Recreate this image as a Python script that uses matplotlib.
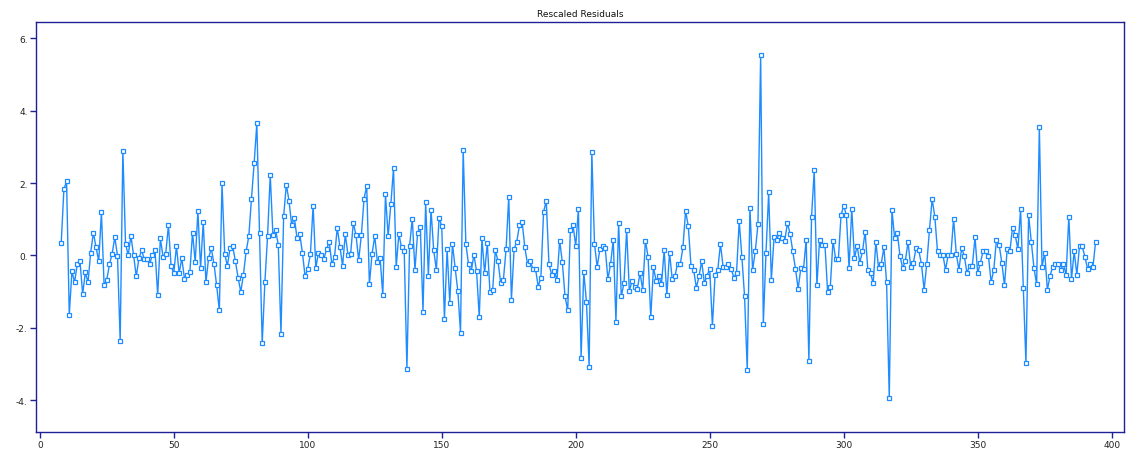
import matplotlib
matplotlib.use("Agg")
import matplotlib.pyplot as plt
from matplotlib.ticker import FuncFormatter

x_start = 8
residuals = [
    0.35, 1.83, 2.05, -1.64, -0.44, -0.74, -0.23, -0.16, -1.07, -0.47,
    -0.74, 0.08, 0.63, 0.22, -0.16, 1.20, -0.83, -0.67, -0.25, 0.05,
    0.50, -0.01, -2.37, 2.90, 0.32, 0.01, 0.54, 0.01, -0.58, -0.08,
    0.14, -0.10, -0.10, -0.25, 0.02, 0.14, -1.10,
    # 45
    0.47, -0.04, 0.05, 0.83, -0.29, -0.49, 0.26, -0.49, -0.08, -0.65,
    -0.53, -0.47, 0.63, -0.19, 1.23, -0.35, 0.93, -0.74, -0.07, 0.20,
    -0.23, -0.83, -1.52, 1.99, 0.05, -0.29, 0.20, 0.26, -0.16, -0.61,
    -1.01, -0.53, 0.11, 0.53, 1.57, 2.56, 3.65, 0.63, -2.43, -0.74,
    # 85
    0.53, 2.23, 0.56, 0.71, 0.29, -2.16, 1.08, 1.96, 1.51, 0.83,
    1.04, 0.47, 0.59, 0.08, -0.58, -0.37, 0.05, 1.38, -0.35, 0.08,
    0.02, -0.10, 0.17, 0.38, -0.25, -0.04, 0.77, 0.24, -0.29, 0.59,
    0.02, 0.05, 0.90, 0.56, -0.13, 0.56, 1.56, 1.93, -0.80, 0.05,
    # 125
    0.53, -0.19, -0.07, -1.10, 1.69, 0.53, 1.41, 2.41, -0.32, 0.59,
    0.22, 0.11, -3.13, 0.26, 1.02, -0.40, 0.63, 0.78, -1.55, 1.47,
    -0.56, 1.26, 0.14, -0.40, 1.04, 0.81, -1.76, 0.17, -1.31, 0.32,
    -0.35, -0.98, -2.13, 2.92, 0.32, -0.25, -0.44, 0.02, -0.44, -1.71,
    # 165
    0.47, -0.49, 0.35, -1.01, -0.95, 0.14, -0.16, -0.77, -0.68, 0.17,
    1.62, -1.22, 0.17, 0.38, 0.83, 0.93, 0.22, -0.23, -0.16, -0.37,
    -0.37, -0.86, -0.61, 1.20, 1.51, -0.23, -0.53, -0.44, -0.68, 0.41,
    -0.19, -1.13, -1.52, 0.71, 0.83, 0.26, 1.29, -2.83,
    # 203
    -0.46, -1.29, -3.07, 2.87, 0.32, -0.32, 0.17, 0.26, 0.20, -0.65,
    -0.25, 0.44, -1.83, 0.90, -1.13, -0.77, 0.71, -0.98, -0.71, -0.86,
    -0.92, -0.49, -0.95, 0.41, -0.04, -1.71, -0.32, -0.71, -0.56, -0.80,
    0.14, -1.10, 0.08, -0.65, -0.58, -0.23, -0.25, 0.22,
    # 241
    1.23, 0.81, -0.28, -0.40, -0.89, -0.58, -0.16, -0.77, -0.56, -0.37,
    -1.95, -0.53, -0.40, 0.32, -0.32, -0.32, -0.25, -0.37, -0.61, -0.49,
    0.95, -0.04, -1.13, -3.16, 1.32, -0.40, 0.11, 0.86, 5.53, -1.89,
    0.08, 1.74, -0.68, 0.50, 0.44, 0.62, 0.47, 0.41, 0.90,
    # 280
    0.59, 0.11, -0.37, -0.92, -0.35, -0.37, 0.44, -2.92, 1.07, 2.35,
    -0.83, 0.44, 0.29, 0.29, -1.01, -0.86, 0.41, -0.11, -0.11, 1.11,
    1.38, 1.11, -0.35, 1.29, -0.07, 0.26, -0.20, 0.11, 0.66, -0.40,
    -0.49, -0.77, 0.38, -0.35, -0.23, 0.22, -0.74, -3.95, 1.26,
    # 319
    0.47, 0.62, -0.01, -0.35, -0.16, 0.38, -0.32, -0.20, 0.20, 0.14,
    -0.23, -0.95, -0.23, 0.71, 1.56, 1.07, 0.11, 0.02, 0.02, -0.40,
    0.02, 0.02, 1.02, 0.05, -0.40, 0.20, -0.01, -0.49, -0.28, -0.28,
    0.50, -0.49, -0.20, 0.11, 0.11, -0.01, -0.74, -0.40, 0.44,
    # 358
    0.29, -0.20, -0.83, 0.17, 0.11, 0.77, 0.56, 0.17, 1.28, -0.89,
    -2.98, 1.11, 0.38, -0.35, -0.80, 3.56, -0.32, 0.08, -0.95, -0.56,
    -0.32, -0.25, -0.25, -0.40, -0.25, -0.53, 1.07, -0.65, 0.11, -0.53,
    0.26, 0.26, -0.04, -0.37, -0.23, -0.32, 0.38,
]
x_values = list(range(x_start, x_start + len(residuals)))

x_ticks = [0, 50, 100, 150, 200, 250, 300, 350, 400]
y_ticks = [-4, -2, 0, 2, 4, 6]
title = "Rescaled Residuals"

navy = "#1f1f96"
line_color = "#1e8cff"

fig = plt.figure(figsize=(11.26, 4.52), dpi=100)
ax = fig.add_axes([0.032, 0.042, 0.966, 0.907])

ax.plot(x_values, residuals, color=line_color, lw=1.0,
        marker="s", ms=3.3, mfc="white", mec=line_color, mew=0.9)

ax.set_xlim(-1.4, 404.5)
ax.set_ylim(-4.88, 6.45)
ax.set_xticks(x_ticks)
ax.set_yticks(y_ticks)
ax.yaxis.set_major_formatter(FuncFormatter(lambda v, p: f"{int(round(v))}."))

for s in ax.spines.values():
    s.set_color(navy)
    s.set_linewidth(1.0)
ax.tick_params(axis="both", direction="out", length=4, width=1.0,
               color=navy, labelsize=6.5, labelcolor="#222222", pad=2)

ax.set_title(title, fontsize=6.5, color="#111111", pad=4)

fig.savefig("out.png", dpi=100)
